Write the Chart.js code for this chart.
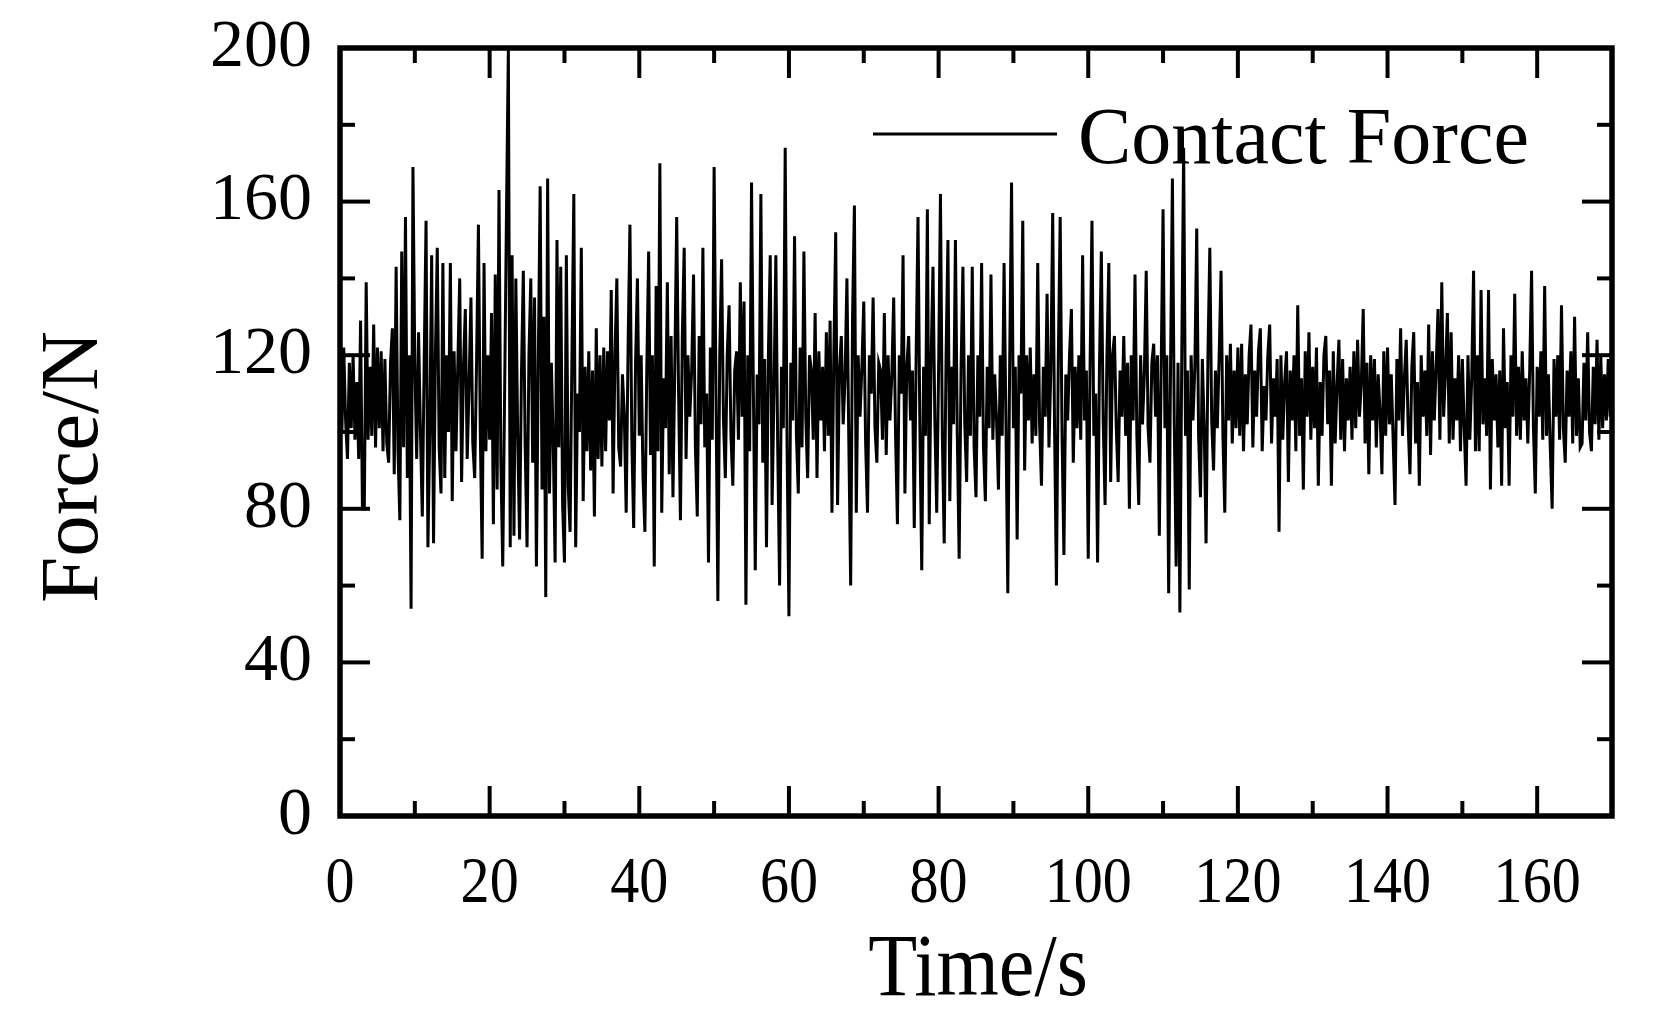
<!DOCTYPE html>
<html>
<head>
<meta charset="utf-8">
<script src="https://cdn.jsdelivr.net/npm/chart.js@4.4.1/dist/chart.umd.min.js"></script>
<style>
  html, body { margin: 0; padding: 0; background: #fff; }
</style>
</head>
<body>
<canvas id="chart" width="1658" height="1020"></canvas>
<script>
const SERIES_LABEL = 'Contact Force';
const X_TITLE = 'Time/s';
const Y_TITLE = 'Force/N';
const X_RANGE = [0, 170];
const Y_RANGE = [0, 200];
const X_TICK_STEP = 20;
const Y_TICK_STEP = 40;
const TIME_STEP = 0.25; // seconds between samples

// force in N, one sample every 0.25 s, one row per 5 s
const force = [
  110,100,122,103, 93,118,101,120, 98,113,93,129, 80,80,139,98, 117,99,128,96,
  122,101,121,95, 119,97,92,118, 127,89,143,95, 77,147,96,156, 88,120,54,169,
  118,93,126,100, 78,118,155,70, 100,146,71,120, 148,96,84,144, 88,120,100,144,
  82,121,95,118, 140,87,117,132, 93,112,135,97, 88,118,154,100, 67,144,95,120,
  98,131,76,141, 85,163,92,65, 110,157,200,70, 146,73,140,99, 72,115,142,96,
  70,120,140,92, 135,65,118,164, 85,130,57,166, 84,118,97,66, 150,96,143,81,
  66,146,86,74, 120,162,70,110, 100,148,82,117, 95,121,90,116, 78,127,93,120,
  91,122,95,121, 103,137,84,120, 140,96,91,115, 104,79,122,154, 98,75,118,140,
  99,120,88,74, 116,147,94,120, 65,138,95,170, 79,114,101,139, 89,125,83,118,
  156,110,77,125, 148,93,120,104, 116,141,96,78, 125,102,148,96, 110,66,122,98,
  169,110,56,120, 145,103,88,120, 133,99,86,116, 121,98,139,104, 134,55,120,95,
  165,110,64,115, 102,162,92,119, 70,120,146,81, 110,146,96,60, 117,101,174,96,
  52,118,103,151, 99,84,122,96, 147,104,88,120, 116,98,131,88, 121,103,117,95,
  126,99,129,79, 120,152,81,116, 125,102,114,140, 98,60,130,159, 79,120,104,117,
  134,97,79,120, 110,135,101,92, 118,116,98,131, 94,120,103,115, 135,99,76,120,
  110,146,84,117, 125,103,116,75, 120,156,101,64, 117,99,158,76, 119,143,103,79,
  116,162,99,71, 120,150,82,117, 102,150,99,67, 116,143,102,87, 120,99,143,96,
  83,120,104,144, 96,82,117,101, 141,98,115,103, 85,120,99,144, 103,58,118,165,
  101,117,72,120, 110,155,90,120, 103,122,97,115, 99,144,102,86, 117,104,136,96,
  116,157,101,60, 119,156,99,68, 115,103,120,132, 92,117,101,120, 98,146,103,116,
  67,118,155,99, 110,66,117,147, 103,81,120,144, 87,120,125,101, 87,116,104,125,
  99,118,80,120, 103,141,99,81, 120,102,115,142, 101,92,118,123, 104,120,73,117,
  158,101,120,58, 117,166,102,65, 118,53,120,174, 99,116,59,120, 103,117,153,99,
  83,119,101,71, 120,148,103,90, 116,101,120,142, 99,79,120,103, 123,97,116,101,
  122,99,123,95, 115,102,120,128, 96,116,104,121, 127,95,112,103, 120,128,97,114,
  104,119,74,120, 98,113,121,87, 116,103,120,95, 133,99,114,85, 121,104,126,98,
  117,101,122,86, 113,99,120,125, 102,116,86,121, 97,112,124,98, 119,95,114,103,
  117,98,121,101, 124,104,113,132, 97,118,89,120, 103,119,96,115, 105,89,121,99,
  122,102,115,98, 81,119,103,127, 99,114,124,102, 89,117,126,97, 113,86,120,104,
  116,99,128,94, 121,103,117,132, 98,139,104,116, 131,97,126,98, 114,103,120,95,
  119,101,86,120, 98,114,142,95, 120,95,137,102, 114,99,137,85, 119,103,115,96,
  116,86,127,101, 113,86,120,104, 136,99,117,98, 121,103,114,97, 116,142,101,84,
  117,104,121,98, 138,99,115,96, 80,119,104,120, 98,133,101,92, 116,104,121,97,
  130,99,114,96, 97,118,103,126, 100,95,117,102, 124,98,120,101, 115,103,119,104,
  112
];

const SERIF = '"Liberation Serif", "Times New Roman", serif';

function samplePoints() {
  return force.map((v, i) => ({x: i * TIME_STEP, y: v}));
}

function line(ctx, x1, y1, x2, y2) {
  ctx.beginPath();
  ctx.moveTo(x1, y1);
  ctx.lineTo(x2, y2);
  ctx.stroke();
}

// frame, inward ticks on all sides, x labels, titles and the inset legend
const framePlugin = {
  id: 'frame',
  afterDraw(chart) {
    const {ctx, chartArea: a, scales: {x, y}} = chart;
    ctx.save();
    ctx.strokeStyle = '#000';
    ctx.fillStyle = '#000';
    ctx.lineCap = 'butt';

    ctx.lineWidth = 4;
    for (let v = x.min; v <= x.max; v += X_TICK_STEP / 2) {
      const px = x.getPixelForValue(v);
      const len = v % X_TICK_STEP === 0 ? 30 : 15;
      line(ctx, px, a.bottom, px, a.bottom - len);
      line(ctx, px, a.top, px, a.top + len);
    }
    for (let v = y.min; v <= y.max; v += Y_TICK_STEP / 2) {
      const py = y.getPixelForValue(v);
      const len = v % Y_TICK_STEP === 0 ? 30 : 15;
      line(ctx, a.left, py, a.left + len, py);
      line(ctx, a.right, py, a.right - len, py);
    }

    ctx.lineWidth = 5.5;
    ctx.strokeRect(a.left, a.top, a.right - a.left, a.bottom - a.top);

    // x tick labels are slightly condensed in the original
    ctx.font = '66px ' + SERIF;
    ctx.textAlign = 'center';
    ctx.textBaseline = 'alphabetic';
    x.ticks.forEach((t) => {
      ctx.save();
      ctx.translate(x.getPixelForValue(t.value), 902);
      ctx.scale(0.88, 1);
      ctx.fillText(String(t.value), 0, 0);
      ctx.restore();
    });

    ctx.save();
    ctx.font = '89px ' + SERIF;
    ctx.translate((a.left + a.right) / 2 + 2, 995);
    ctx.scale(0.9, 1);
    ctx.fillText(X_TITLE, 0, 0);
    ctx.restore();

    ctx.save();
    ctx.font = '83px ' + SERIF;
    ctx.translate(97, 467);
    ctx.rotate(-Math.PI / 2);
    ctx.fillText(Y_TITLE, 0, 0);
    ctx.restore();

    // legend
    ctx.lineWidth = 3;
    line(ctx, 873, 134, 1057, 134);
    ctx.font = '80px ' + SERIF;
    ctx.textAlign = 'left';
    ctx.fillText(chart.data.datasets[0].label, 1078, 163);
    ctx.restore();
  }
};

new Chart(document.getElementById('chart'), {
  type: 'line',
  data: {
    datasets: [{
      label: SERIES_LABEL,
      data: samplePoints(),
      borderColor: '#000',
      borderWidth: 3,
      pointRadius: 0,
      tension: 0,
      fill: false,
    }],
  },
  options: {
    responsive: false,
    animation: false,
    layout: {padding: {top: 48, right: 46, left: 0, bottom: 0}},
    plugins: {legend: {display: false}, tooltip: {enabled: false}},
    scales: {
      x: {
        type: 'linear',
        min: X_RANGE[0],
        max: X_RANGE[1],
        grid: {display: false, drawTicks: false},
        border: {display: false},
        ticks: {stepSize: X_TICK_STEP, includeBounds: false, display: false, autoSkip: false},
        afterFit: (scale) => {
          scale.height = 204;
          scale.paddingLeft = 0;
          scale.paddingRight = 0;
        },
      },
      y: {
        min: Y_RANGE[0],
        max: Y_RANGE[1],
        grid: {display: false, drawTicks: false},
        border: {display: false},
        ticks: {
          stepSize: Y_TICK_STEP,
          color: '#000',
          padding: 28,
          font: {family: SERIF, size: 68},
        },
        afterFit: (scale) => {
          scale.width = 340;
          scale.paddingTop = 0;
          scale.paddingBottom = 0;
        },
      },
    },
  },
  plugins: [framePlugin],
});
</script>
</body>
</html>
